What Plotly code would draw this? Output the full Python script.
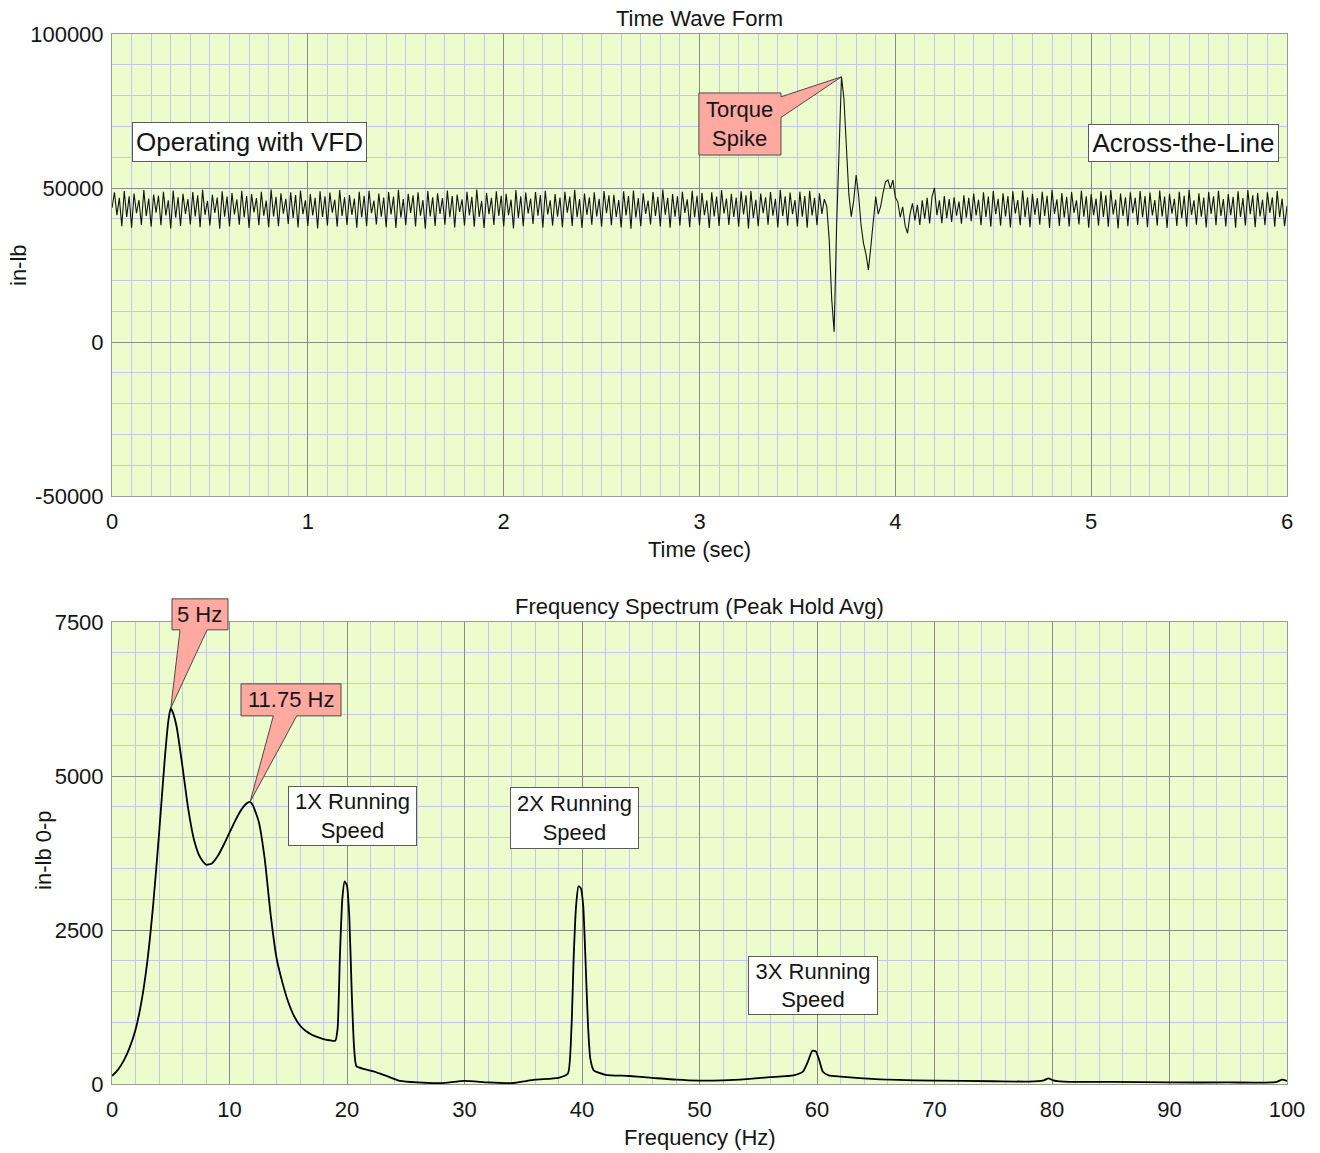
import numpy as np
import plotly.graph_objects as go

# ---------------------------------------------------------------------------
# Shaft torque, time waveform (thousands of in-lb), sampled every 12.5 ms
# ---------------------------------------------------------------------------
SAMPLE_INTERVAL = 0.0125

# VFD operation: 20 Hz ripple with strong 2X content
vfd_section = [
    43.5,
    48.6, 41.2, 46.8, 37.6, 49.0, 40.6, 47.3, 37.1, 48.2, 41.8, 46.1, 38.0, 49.3, 40.9, 46.6, 37.4,
    47.9, 42.0, 47.5, 37.9, 48.8, 41.1, 46.0, 36.9, 49.2, 40.4, 47.0, 37.7, 48.1, 41.6, 46.4, 38.2,
    48.7, 40.8, 47.6, 37.3, 49.4, 41.3, 45.8, 37.8, 47.8, 41.9, 46.9, 36.8, 48.9, 40.7, 47.2, 37.5,
    48.4, 41.4, 46.3, 38.1, 49.1, 40.5, 47.4, 37.0, 48.0, 42.1, 46.7, 37.9, 48.8, 41.0, 45.9, 37.3,
    49.5, 40.8, 47.1, 37.6, 48.3, 41.7, 46.5, 38.3, 48.6, 40.3, 47.7, 37.2, 49.2, 41.5, 46.0, 37.7,
    48.0, 41.1, 46.8, 36.9, 48.9, 40.6, 47.3, 37.8, 48.5, 42.0, 46.2, 37.4, 49.3, 40.9, 47.0, 38.0,
    47.7, 41.3, 46.6, 37.1, 48.8, 40.5, 47.5, 37.6, 49.1, 41.8, 45.9, 38.2, 48.2, 40.7, 46.9, 37.3,
    48.7, 41.4, 47.2, 37.0, 49.4, 40.4, 46.4, 37.9, 48.1, 41.9, 47.6, 37.5, 48.6, 41.0, 46.1, 36.8,
    49.0, 40.8, 47.0, 37.7, 48.3, 41.6, 46.7, 38.1, 49.2, 40.5, 47.4, 37.2, 47.9, 42.2, 46.3, 37.8,
    48.8, 41.1, 47.1, 37.4, 49.5, 40.6, 45.8, 37.0, 48.4, 41.5, 46.8, 38.0, 48.9, 40.9, 47.5, 37.5,
    48.1, 41.2, 46.2, 36.9, 49.3, 40.3, 47.3, 37.6, 48.5, 41.7, 46.6, 38.3, 48.7, 41.0, 47.7, 37.1,
    49.1, 41.4, 46.0, 37.8, 48.0, 40.7, 46.9, 37.3, 48.8, 42.0, 47.2, 37.7, 49.4, 40.5, 46.4, 37.0,
    48.2, 41.3, 47.0, 38.1, 48.6, 40.8, 46.5, 37.4, 49.0, 41.8, 47.6, 37.9, 47.8, 40.6, 46.1, 37.2,
    48.9, 41.1, 47.4, 36.8, 49.2, 40.4, 46.7, 37.6, 48.3, 41.6, 45.9, 38.2, 48.7, 40.9, 47.1, 37.5,
    49.5, 41.3, 46.8, 37.1, 48.0, 40.7, 47.3, 37.8, 48.8, 41.9, 46.3, 37.3, 49.1, 40.5, 47.5, 37.9,
    48.4, 41.2, 46.0, 37.0, 48.6, 40.8, 47.2, 37.7, 49.3, 41.7, 46.6, 38.0, 48.1, 40.6, 46.9, 37.4,
    48.9, 41.4, 47.6, 36.9, 49.0, 40.3, 46.2, 37.6, 48.2, 41.8, 47.0, 38.1, 48.7, 41.0, 46.5, 37.2,
    49.4, 40.9, 47.3, 37.8, 48.5, 41.5, 46.1, 37.5, 48.8, 40.7, 47.4, 37.1, 49.1, 41.1, 46.8, 37.9,
    48.3, 41.6, 46.4, 44.0,
]

# Switch-over to across-the-line start: torque spike and ring-down
transient_section = [
    33.0, 14.0, 3.3, 37.4, 63.5, 86.1, 79.0, 64.0, 48.0, 40.7, 46.0, 54.2, 47.5, 38.0, 32.0,
    28.5, 23.4, 31.0, 40.0, 47.2, 41.5, 44.0, 48.5, 52.0, 52.6, 49.8, 52.6, 47.0, 45.5, 40.5,
    43.9, 37.8, 35.3, 41.5, 45.0, 39.5, 44.5, 38.0, 46.0, 40.0, 46.8, 38.5, 47.2,
]

# Across-the-line operation
line_section = [
    50.0, 41.2, 46.0, 38.6, 47.4, 40.2, 46.4, 39.0, 47.0, 41.0, 45.6, 38.4, 47.6, 40.4, 46.8, 39.2,
    48.2, 41.1, 46.2, 37.9, 48.6, 40.6, 47.2, 37.4, 49.0, 41.5, 46.5, 37.8, 48.3, 40.8, 47.4, 37.2,
    48.9, 41.7, 46.1, 37.9, 49.2, 40.5, 47.0, 37.3, 48.1, 41.3, 46.7, 38.1, 48.8, 40.9, 47.5, 37.0,
    49.4, 41.6, 46.3, 37.7, 48.4, 40.4, 47.1, 37.5, 48.7, 41.9, 46.0, 38.2, 49.1, 40.7, 47.3, 37.1,
    48.0, 41.2, 46.6, 37.8, 48.9, 40.6, 47.6, 37.4, 49.3, 41.4, 46.2, 36.9, 48.2, 40.9, 47.0, 37.6,
    48.6, 41.8, 46.8, 38.0, 49.0, 40.5, 47.4, 37.3, 48.5, 41.1, 46.1, 37.8, 49.2, 40.8, 47.2, 37.0,
    48.1, 41.7, 46.5, 37.7, 48.8, 40.3, 47.5, 37.4, 49.4, 41.3, 46.0, 38.1, 48.3, 40.7, 46.9, 37.2,
    48.7, 41.6, 47.3, 37.9, 49.1, 40.9, 46.4, 37.5, 48.0, 41.2, 47.1, 37.1, 48.9, 40.6, 46.7, 37.8,
    49.3, 41.5, 47.6, 37.3, 48.4, 40.8, 46.2, 37.9, 48.6, 41.9, 47.0, 37.4, 49.0, 40.5, 46.6, 37.6,
    44.2,
]

# ---------------------------------------------------------------------------
# Frequency spectrum, peak hold average (in-lb 0-p)
# ---------------------------------------------------------------------------
freq_hz = [
    0, 0.5, 1, 1.5, 2, 2.5, 3, 3.5, 4, 4.5, 4.8, 5.0, 5.2, 5.5, 6, 6.5, 7, 7.5, 8, 8.5,
    9, 9.5, 10, 10.5, 11, 11.5, 11.75, 12, 12.5, 13, 13.5, 14, 14.5, 15, 15.5, 16, 16.5,
    17, 17.5, 18, 18.5, 19.0, 19.2, 19.4, 19.6, 19.8, 20.0, 20.2, 20.4, 20.6, 20.8, 21.5,
    22.5, 23.5, 24.5, 26, 28, 30, 32, 34, 36, 38, 38.8, 39.1, 39.3, 39.5, 39.7, 39.9, 40.1,
    40.3, 40.5, 40.7, 41, 42, 44, 46, 48, 50, 52, 54, 56, 58, 58.8, 59.2, 59.6, 59.9, 60.2,
    60.5, 61, 62, 65, 70, 75, 78, 79.3, 79.7, 80.1, 81, 85, 90, 95, 99, 99.6, 100,
]
amp_inlb = [
    130, 230, 380, 590, 880, 1330, 1980, 2900, 4050, 5300, 5900, 6100, 6020, 5800, 5150, 4450,
    3950, 3680, 3560, 3580, 3700, 3880, 4080, 4280, 4450, 4560, 4580, 4520, 4250, 3650, 2750,
    2050, 1650, 1330, 1100, 950, 860, 800, 760, 730, 710, 700, 900, 2100, 3000, 3290, 3220,
    2700, 1500, 600, 290, 240, 190, 120, 50, 25, 15, 50, 25, 15, 70, 100, 170, 900, 2100,
    2900, 3210, 3180, 2900, 2000, 1000, 420, 220, 150, 130, 100, 70, 55, 60, 80, 110, 140,
    200, 350, 540, 530, 380, 200, 140, 120, 80, 55, 45, 40, 60, 90, 60, 40, 35, 25, 25, 30,
    70, 50,
]

# Axis ticks
time_ticks = [0, 1, 2, 3, 4, 5, 6]
time_tick_text = ["0", "1", "2", "3", "4", "5", "6"]
torque_ticks = [-50000, 0, 50000, 100000]
torque_tick_text = ["-50000", "0", "50000", "100000"]
freq_ticks = [0, 10, 20, 30, 40, 50, 60, 70, 80, 90, 100]
freq_tick_text = ["0", "10", "20", "30", "40", "50", "60", "70", "80", "90", "100"]
amp_ticks = [0, 2500, 5000, 7500]
amp_tick_text = ["0", "2500", "5000", "7500"]

# ---------------------------------------------------------------------------
# Styling
# ---------------------------------------------------------------------------
FONT = "Liberation Sans, Arial, Helvetica, sans-serif"
TEXT = "#151515"
PLOT_BG = "#EDFCCD"
MAJOR_GRID = "#8A8A8A"
MINOR_GRID = "#C4C6F2"
FRAME = "#9A9A9A"
CALLOUT_FILL = "#FFA9A0"
CALLOUT_EDGE = "#4A4A4A"
BOX_EDGE = "#5A5A5A"

TIME_RANGE = [0, 6]
TORQUE_RANGE = [-50000, 100000]
FREQ_RANGE = [0, 100]
AMP_RANGE = [0, 7500]
TOP_DOMAIN = [0.56, 1.0]
BOTTOM_DOMAIN = [0.0, 0.44]

torque = np.array(vfd_section + transient_section + line_section) * 1000.0
time_s = np.arange(len(torque)) * SAMPLE_INTERVAL

fig = go.Figure()
fig.add_trace(go.Scatter(
    x=time_s, y=torque, mode="lines", xaxis="x", yaxis="y",
    line=dict(color="#141414", width=1.1), hoverinfo="skip",
))
fig.add_trace(go.Scatter(
    x=freq_hz, y=amp_inlb, mode="lines", xaxis="x2", yaxis="y2",
    line=dict(color="#000000", width=1.8, shape="spline", smoothing=0.5),
    hoverinfo="skip",
))


def axis_style(tickvals, ticktext, rng, minor_step, **extra):
    style = dict(
        range=rng, tickmode="array", tickvals=tickvals, ticktext=ticktext,
        showgrid=True, gridcolor=MAJOR_GRID, gridwidth=1,
        minor=dict(tickmode="linear", tick0=rng[0], dtick=minor_step,
                   showgrid=True, gridcolor=MINOR_GRID, gridwidth=1),
        showline=True, linecolor=FRAME, linewidth=1, mirror=True,
        zeroline=False, ticks="", fixedrange=True,
        tickfont=dict(family=FONT, size=22, color=TEXT),
    )
    style.update(extra)
    return style


fig.update_layout(
    width=1320, height=1153,
    margin=dict(l=112, r=33, t=34, b=69),
    paper_bgcolor="white", plot_bgcolor=PLOT_BG,
    showlegend=False,
    font=dict(family=FONT, size=22, color=TEXT),
    xaxis=axis_style(time_ticks, time_tick_text, TIME_RANGE, 0.1,
                     domain=[0, 1], anchor="y", ticklabelstandoff=6),
    yaxis=axis_style(torque_ticks, torque_tick_text, TORQUE_RANGE, 10000,
                     domain=TOP_DOMAIN, anchor="x", ticklabelstandoff=3),
    xaxis2=axis_style(freq_ticks, freq_tick_text, FREQ_RANGE, 2,
                      domain=[0, 1], anchor="y2", ticklabelstandoff=6),
    yaxis2=axis_style(amp_ticks, amp_tick_text, AMP_RANGE, 500,
                      domain=BOTTOM_DOMAIN, anchor="x2", ticklabelstandoff=3),
)


def to_paper(x, y, xr, yr, ydom):
    """Convert a data point of a subplot into paper coordinates."""
    px = (x - xr[0]) / (xr[1] - xr[0])
    py = ydom[0] + (y - yr[0]) / (yr[1] - yr[0]) * (ydom[1] - ydom[0])
    return px, py


def path_from(points, close=True):
    d = "M " + " L ".join(f"{p[0]:.5f},{p[1]:.5f}" for p in points)
    return d + (" Z" if close else "")


def add_callout(text, box_x, box_y, edge_a, edge_b, inset, tip, xr, yr, ydom):
    """Pink label box with a wedge pointing at a data point."""
    conv = lambda x, y: to_paper(x, y, xr, yr, ydom)
    (x0, y0), (x1, y1) = conv(box_x[0], box_y[0]), conv(box_x[1], box_y[1])
    fig.add_shape(type="rect", xref="paper", yref="paper",
                  x0=x0, y0=y0, x1=x1, y1=y1, layer="above",
                  fillcolor=CALLOUT_FILL, line=dict(color=CALLOUT_EDGE, width=1))
    a, b, t = conv(*edge_a), conv(*edge_b), conv(*tip)
    ia = conv(edge_a[0] + inset[0], edge_a[1] + inset[1])
    ib = conv(edge_b[0] + inset[0], edge_b[1] + inset[1])
    fig.add_shape(type="path", xref="paper", yref="paper", layer="above",
                  path=path_from([ia, a, t, b, ib]),
                  fillcolor=CALLOUT_FILL, line=dict(width=0))
    fig.add_shape(type="path", xref="paper", yref="paper", layer="above",
                  path=path_from([a, t, b], close=False),
                  fillcolor="rgba(0,0,0,0)", line=dict(color=CALLOUT_EDGE, width=1))
    cx, cy = conv((box_x[0] + box_x[1]) / 2, (box_y[0] + box_y[1]) / 2)
    fig.add_annotation(x=cx, y=cy, xref="paper", yref="paper", text=text,
                       showarrow=False, xanchor="center", yanchor="middle",
                       font=dict(family=FONT, size=22, color=TEXT))


# Torque spike callout, pointing at the largest sample of the waveform
i_peak = int(np.argmax(torque))
add_callout("Torque<br>Spike", (2.997, 3.416), (60700, 80850),
            (3.416, 79600), (3.416, 72900), (-0.012, 0),
            (time_s[i_peak], torque[i_peak]), TIME_RANGE, TORQUE_RANGE, TOP_DOMAIN)

# Spectrum callouts at the two low-frequency peaks
freq_arr = np.array(freq_hz)
amp_arr = np.array(amp_inlb)
i5 = int(np.argmax(np.where(freq_arr < 8, amp_arr, 0)))
i1175 = int(np.argmax(np.where((freq_arr > 9) & (freq_arr < 15), amp_arr, 0)))
add_callout("5 Hz", (5.106, 9.872), (7373, 7876),
            (5.79, 7373), (8.09, 7373), (0, 40),
            (freq_arr[i5], amp_arr[i5]), FREQ_RANGE, AMP_RANGE, BOTTOM_DOMAIN)
add_callout("11.75 Hz", (10.98, 19.49), (5976, 6496),
            (13.73, 5976), (15.72, 5976), (0, 40),
            (freq_arr[i1175], amp_arr[i1175]), FREQ_RANGE, AMP_RANGE, BOTTOM_DOMAIN)


def add_label_box(text, x, y, w, h, xref, yref, size):
    fig.add_annotation(x=x, y=y, xref=xref, yref=yref, text=text, showarrow=False,
                       xanchor="center", yanchor="middle", align="center",
                       width=w, height=h, bgcolor="white", bordercolor=BOX_EDGE,
                       borderwidth=1, borderpad=1,
                       font=dict(family=FONT, size=size, color=TEXT))


add_label_box("Operating with VFD", 0.70, 64780, 231, 36, "x", "y", 26)
add_label_box("Across-the-Line", 5.474, 64450, 187, 34, "x", "y", 26)
add_label_box("1X Running<br>Speed", 20.43, 4352, 125, 56, "x2", "y2", 22)
add_label_box("2X Running<br>Speed", 39.32, 4320, 125, 58, "x2", "y2", 22)
add_label_box("3X Running<br>Speed", 59.62, 1594, 126, 55, "x2", "y2", 22)

# Titles and axis labels
text_items = [
    ("Time Wave Form", 0.5, 1.0152, 0),
    ("Frequency Spectrum (Peak Hold Avg)", 0.5, 0.4552, 0),
    ("Time (sec)", 0.5, 0.5095, 0),
    ("Frequency (Hz)", 0.5, -0.0505, 0),
    ("in-lb", -0.080, 0.780, -90),
    ("in-lb 0-p", -0.0579, 0.2229, -90),
]
for txt, x, y, ang in text_items:
    fig.add_annotation(x=x, y=y, xref="paper", yref="paper", text=txt,
                       showarrow=False, xanchor="center", yanchor="middle",
                       textangle=ang, font=dict(family=FONT, size=22, color=TEXT))

fig.write_html("out.html")
